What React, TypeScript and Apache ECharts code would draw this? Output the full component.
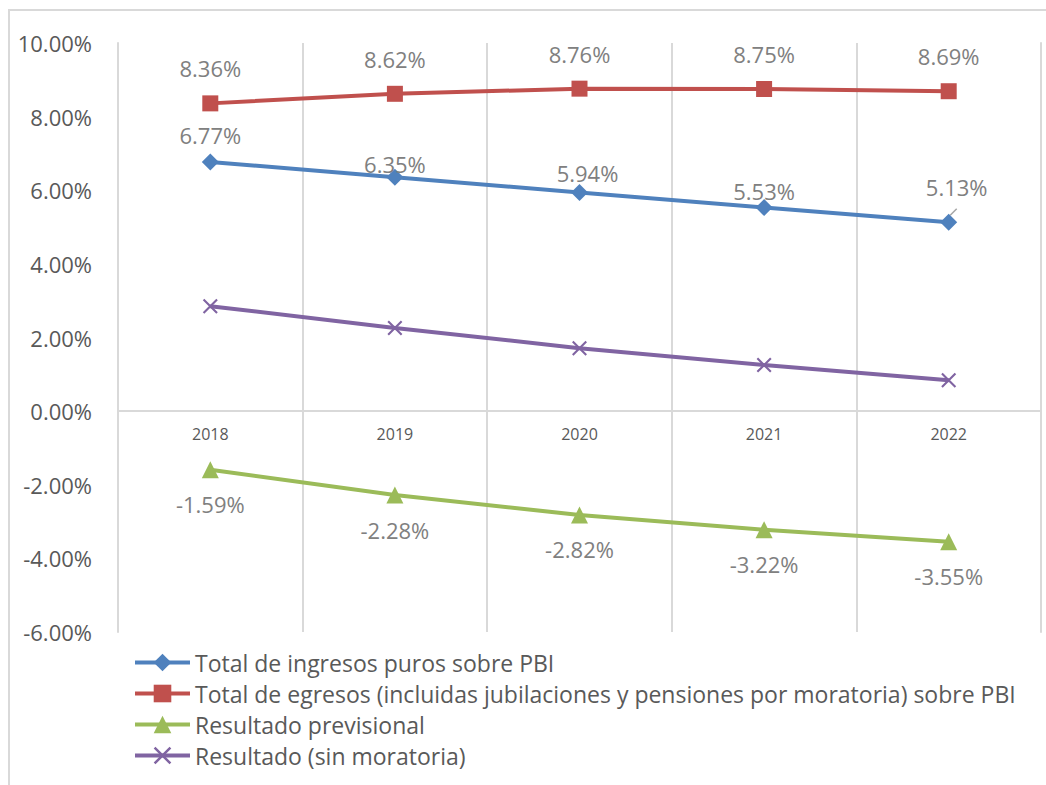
import React, { useEffect, useRef } from "react";
import * as echarts from "echarts";

const years = ["2018", "2019", "2020", "2021", "2022"];
const ingresos = [6.77, 6.35, 5.94, 5.53, 5.13];
const egresos = [8.36, 8.62, 8.76, 8.75, 8.69];
const previsional = [-1.59, -2.28, -2.82, -3.22, -3.55];
const sinMoratoria = [2.85, 2.26, 1.71, 1.25, 0.84];

const seriesNames = [
  "Total de ingresos puros sobre PBI",
  "Total de egresos (incluidas jubilaciones y pensiones por moratoria) sobre PBI",
  "Resultado previsional",
  "Resultado (sin moratoria)",
];

const yTicks = { min: -6, max: 10, interval: 2 };

// label placement tweaks (style only)
const ingresosLabelStyle = [
  { distance: 7, offset: [0, 0] },
  { distance: -6, offset: [0, 0] },
  { distance: 0, offset: [8, 0] },
  { distance: -3, offset: [0, 0] },
  { distance: 16, offset: [8, 0] },
];

const FONT = "'Open Sans', 'Noto Sans', sans-serif";
const pct = (v: number) => v.toFixed(2) + "%";

const W = 1046;
const H = 785;
const GRID = { left: 118, right: 5, top: 43, bottom: 153 };

export default function App() {
  const ref = useRef<HTMLDivElement>(null);
  useEffect(() => {
    document.body.style.margin = "0";
    if (!ref.current) return;
    const chart = echarts.init(ref.current, null, { renderer: "svg" });
    const gridH = H - GRID.top - GRID.bottom;
    const zeroOffset = -(gridH * (0 - yTicks.min)) / (yTicks.max - yTicks.min);
    const dataLabel = {
      show: true,
      color: "#808080",
      fontSize: 22,
      fontFamily: FONT,
      formatter: (p: any) => pct(p.value),
    };
    const axisLineStyle = { color: "#d9d9d9", width: 2 };
    chart.setOption({
      animation: false,
      backgroundColor: "#ffffff",
      textStyle: { fontFamily: FONT },
      graphic: [
        {
          type: "rect",
          shape: { x: 9, y: 10, width: 1200, height: 1000 },
          style: { fill: "none", stroke: "#d9d9d9", lineWidth: 2 },
          silent: true,
        },
      ],
      grid: GRID,
      legend: {
        orient: "vertical",
        left: 128,
        top: 646,
        itemWidth: 55,
        itemHeight: 22,
        itemGap: 8,
        lineStyle: { width: 4 },
        textStyle: { fontSize: 23, lineHeight: 23, color: "#595959", fontFamily: FONT },
        data: seriesNames,
      },
      xAxis: {
        type: "category",
        data: years,
        boundaryGap: true,
        position: "bottom",
        offset: zeroOffset,
        axisLine: { onZero: false, lineStyle: axisLineStyle },
        axisTick: { show: false },
        splitLine: { show: true, lineStyle: axisLineStyle },
        axisLabel: { color: "#595959", fontSize: 16, margin: 15, fontFamily: FONT },
      },
      yAxis: [
        {
          type: "value",
          min: yTicks.min,
          max: yTicks.max,
          interval: yTicks.interval,
          axisLine: { show: true, lineStyle: axisLineStyle },
          axisTick: { show: false },
          splitLine: { show: false },
          axisLabel: {
            color: "#595959",
            fontSize: 22,
            margin: 26,
            fontFamily: FONT,
            formatter: (v: number) => pct(v),
          },
        },
        {
          type: "value",
          position: "right",
          min: yTicks.min,
          max: yTicks.max,
          interval: yTicks.interval,
          axisLine: { show: true, lineStyle: axisLineStyle },
          axisTick: { show: false },
          axisLabel: { show: false },
          splitLine: { show: false },
        },
      ],
      series: [
        {
          name: seriesNames[0],
          type: "line",
          data: ingresos.map((v, i) => ({
            value: v,
            label: { ...ingresosLabelStyle[i] },
            labelLine: i === 4 ? { show: true, lineStyle: { color: "#a6a6a6", width: 1.5 } } : { show: false },
          })),
          symbol: "diamond",
          symbolSize: 17,
          lineStyle: { color: "#4f81bd", width: 4 },
          itemStyle: { color: "#4f81bd" },
          label: { ...dataLabel, position: "top" },
          z: 4,
        },
        {
          name: seriesNames[1],
          type: "line",
          data: egresos,
          symbol: "rect",
          symbolSize: 16,
          lineStyle: { color: "#c0504d", width: 4 },
          itemStyle: { color: "#c0504d" },
          label: { ...dataLabel, position: "top", distance: 16 },
          z: 4,
        },
        {
          name: seriesNames[2],
          type: "line",
          data: previsional,
          symbol: "triangle",
          symbolSize: 17,
          lineStyle: { color: "#9bbb59", width: 4 },
          itemStyle: { color: "#9bbb59" },
          label: { ...dataLabel, position: "bottom", distance: 15 },
          z: 4,
        },
        {
          name: seriesNames[3],
          type: "line",
          data: sinMoratoria,
          symbol: "path://M0,1 L1,0 L10,9 L9,10 Z M9,0 L10,1 L1,10 L0,9 Z",
          symbolSize: 15,
          lineStyle: { color: "#8064a2", width: 4 },
          itemStyle: { color: "#8064a2" },
          z: 4,
        },
      ],
    });
    return () => chart.dispose();
  }, []);
  return <div ref={ref} style={{ width: W, height: H }} />;
}
